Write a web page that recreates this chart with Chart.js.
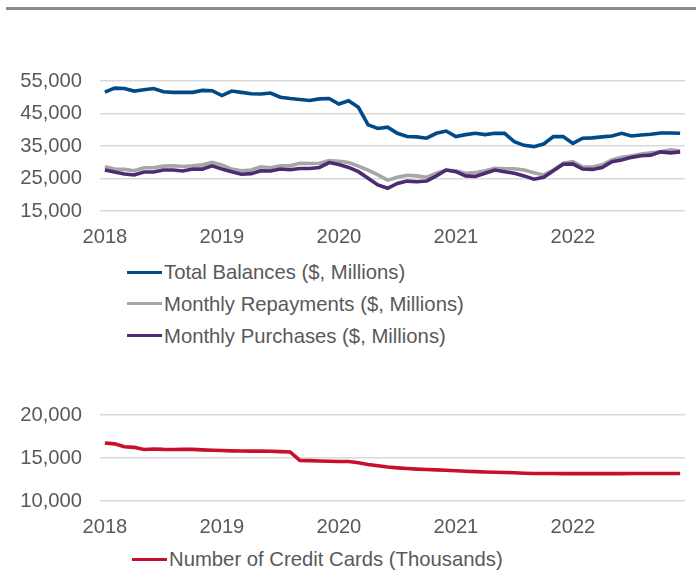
<!DOCTYPE html>
<html>
<head>
<meta charset="utf-8">
<script src="https://cdn.jsdelivr.net/npm/chart.js@4.4.0/dist/chart.umd.min.js"></script>
<style>
  html, body { margin: 0; padding: 0; background: #ffffff; }
  body { width: 696px; height: 570px; position: relative; overflow: hidden; font-family: "Liberation Sans", Arial, sans-serif; }
  .rule { position: absolute; left: 6px; top: 7px; width: 690px; height: 3px; background: #8c8c8c; }
  .box { position: absolute; left: 0; width: 696px; }
  .legend { position: absolute; color: #595959; font-size: 20.3px; line-height: 22px; white-space: nowrap; }
  .legend .item { position: absolute; left: 0; height: 22px; }
  .legend .sw { position: absolute; top: 9.5px; width: 35px; height: 3px; }
  .legend .tx { position: absolute; left: 37px; top: 0; }
</style>
</head>
<body>
<div class="rule"></div>
<div class="box" style="top:0;height:250px;"><canvas id="top"></canvas></div>
<div class="box" style="top:380px;height:160px;"><canvas id="bottom"></canvas></div>
<div class="legend" id="legTop" style="left:127px;top:0;"></div>
<div class="legend" id="legBot" style="left:132px;top:0;"></div>
<script>
// ---- data (monthly, Jan 2018 - Dec 2022) ----
const years = ["2018", "2019", "2020", "2021", "2022"];
const months = [];
years.forEach(y => { for (let m = 1; m <= 12; m++) months.push(y + "-" + String(m).padStart(2, "0")); });

const totalBalances = [
  51600,52800,52700,51900,52300,52700,51700,51500,51500,51500,52100,52000,
  50500,51900,51500,51100,51000,51300,50000,49600,49300,49000,49500,49600,
  47900,48900,46900,41500,40400,40800,38900,37900,37800,37400,38900,39600,
  37900,38500,38900,38500,38900,38900,36300,35200,34800,35600,37900,37900,
  35800,37400,37500,37800,38100,38900,38100,38400,38600,39000,39000,38900
];
const monthlyRepayments = [
  28600,27900,27800,27400,28300,28300,28800,28900,28700,28900,29200,30000,
  29200,27900,27400,27600,28600,28300,28900,28900,29700,29600,29700,30500,
  30300,29900,28800,27600,26100,24500,25400,26000,25800,25400,26600,27600,
  27400,26600,26800,27400,28100,28000,28000,27600,26800,26100,27600,29700,
  30200,28600,28500,29200,30700,31500,31900,32500,32900,33200,33800,33500
];
const monthlyPurchases = [
  27600,27000,26400,26100,27000,27000,27600,27600,27300,27900,27900,28900,
  27900,27100,26300,26500,27400,27300,27900,27700,28100,28100,28400,29900,
  29300,28400,27100,25100,23000,22000,23500,24200,24000,24200,25800,27600,
  27100,25800,25600,26600,27600,27100,26600,25800,24800,25400,27400,29400,
  29500,27900,27800,28400,30200,30700,31500,32000,32200,33200,32900,33200
];
const creditCards = [
  16750,16640,16300,16240,15990,16050,16000,15990,16000,16000,15940,15900,
  15870,15830,15810,15800,15800,15780,15740,15700,14720,14690,14650,14620,
  14600,14590,14450,14250,14100,13950,13850,13770,13710,13670,13620,13580,
  13520,13460,13420,13380,13350,13320,13280,13230,13200,13200,13190,13180,
  13180,13180,13180,13180,13180,13180,13190,13190,13200,13200,13200,13200
];
const topTicks = [15000, 25000, 35000, 45000, 55000];
const bottomTicks = [10000, 15000, 20000];

const seriesTop = [
  { label: "Total Balances ($, Millions)", data: totalBalances, color: "#004b87" },
  { label: "Monthly Repayments ($, Millions)", data: monthlyRepayments, color: "#a6a6a6" },
  { label: "Monthly Purchases ($, Millions)", data: monthlyPurchases, color: "#4e2a72" }
];
const seriesBottom = [
  { label: "Number of Credit Cards (Thousands)", data: creditCards, color: "#c8102e" }
];

// ---- rendering ----
const FONT = { family: "'Liberation Sans', Arial, sans-serif", size: 20.2 };
const TXT = "#595959";
const GRID = "#d9d9d9";
const yearTickIdx = years.map((y, i) => i * 12);

function toXY(arr) { return arr.map((v, i) => ({ x: i, y: v })); }

function makeChart(id, series, yTicks, padTop) {
  return new Chart(document.getElementById(id), {
    type: "line",
    data: {
      labels: months,
      datasets: series.map((s, k) => ({
        label: s.label,
        data: toXY(s.data),
        borderColor: s.color,
        backgroundColor: s.color,
        borderWidth: 3.6,
        pointRadius: 0,
        tension: 0,
        fill: false,
        order: k === 0 ? 0 : (series.length - k)
      }))
    },
    options: {
      responsive: true,
      maintainAspectRatio: false,
      animation: false,
      events: [],
      layout: { padding: { top: padTop, right: 11, left: 0, bottom: 0 } },
      plugins: { legend: { display: false }, tooltip: { enabled: false } },
      scales: {
        x: {
          type: "linear",
          min: -0.5,
          max: 59.5,
          afterBuildTicks: sc => { sc.ticks = yearTickIdx.map(v => ({ value: v })); },
          afterFit: sc => { sc.height = 39; },
          ticks: {
            autoSkip: false, maxRotation: 0, padding: 14,
            color: TXT, font: FONT,
            callback: v => years[Math.round(v / 12)]
          },
          grid: { display: false, drawTicks: false },
          border: { display: false }
        },
        y: {
          type: "linear",
          min: yTicks[0],
          max: yTicks[yTicks.length - 1],
          afterBuildTicks: sc => { sc.ticks = yTicks.map(v => ({ value: v })); },
          afterFit: sc => { sc.width = 100; },
          ticks: {
            padding: 18, color: TXT, font: FONT,
            callback: v => v.toLocaleString("en-US")
          },
          grid: { color: GRID, lineWidth: 1.4, drawTicks: false },
          border: { display: false }
        }
      }
    }
  });
}

makeChart("top", seriesTop, topTicks, 81);
makeChart("bottom", seriesBottom, bottomTicks, 35);

function buildLegend(el, series, centers) {
  series.forEach((s, i) => {
    const it = document.createElement("div");
    it.className = "item";
    it.style.top = (centers[i] - 11) + "px";
    const sw = document.createElement("div");
    sw.className = "sw";
    sw.style.background = s.color;
    const tx = document.createElement("div");
    tx.className = "tx";
    tx.textContent = s.label;
    it.appendChild(sw); it.appendChild(tx);
    el.appendChild(it);
  });
}
buildLegend(document.getElementById("legTop"), seriesTop, [272, 303.5, 335.5]);
buildLegend(document.getElementById("legBot"), seriesBottom, [559]);
</script>
</body>
</html>
